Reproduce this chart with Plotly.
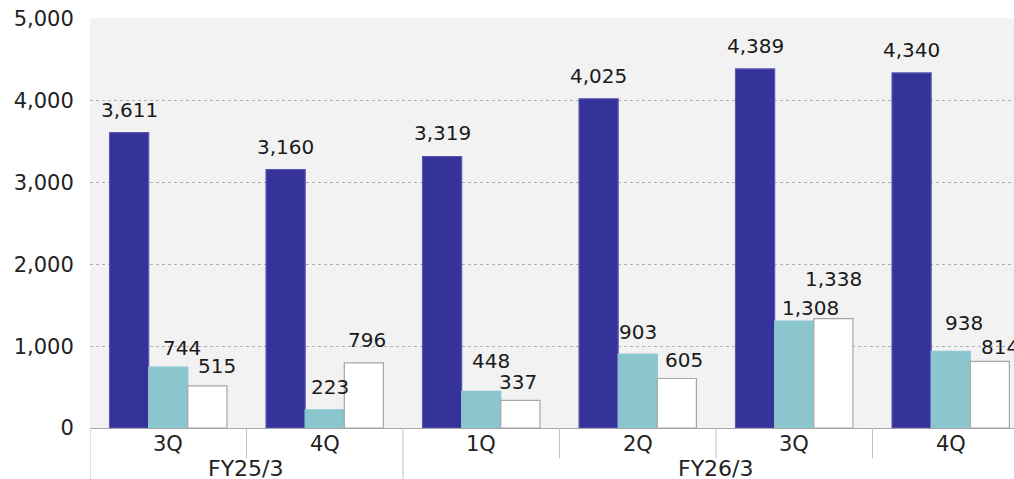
import plotly.graph_objects as go

# ---- data ----
fiscal_years = ["FY25/3", "FY25/3", "FY26/3", "FY26/3", "FY26/3", "FY26/3"]
quarters = ["3Q", "4Q", "1Q", "2Q", "3Q", "4Q"]
series_a = [3611, 3160, 3319, 4025, 4389, 4340]
series_b = [744, 223, 448, 903, 1308, 938]
series_c = [515, 796, 337, 605, 1338, 814]
y_ticks = [0, 1000, 2000, 3000, 4000, 5000]

# ---- style ----
FONT = "DejaVu Sans"
colors = ["#35339A", "#8BC6CE", "#FFFFFF"]
line_colors = ["#5856B0", "#8BC6CE", "#A6A6A6"]
bar_offsets = [-0.25, 0.0, 0.25]
# label nudges (pixels) reproducing the original's manual label layout
label_dx = [[0] * 6, [14, 5, 10, 0, 16, 13], [10, 3, -2, 7, 0, 10]]
label_dy = [[23] * 6, [19, 23, 30, 22, 13, 28], [20, 23, 18, 19, 40, 14]]

W, H = 1014, 479
ML, MT, MB = 90, 18, 51
plot_h = H - MT - MB

n = len(quarters)
idx = list(range(n))

fig = go.Figure()
all_series = [series_a, series_b, series_c]
for s, vals in enumerate(all_series):
    fig.add_trace(go.Bar(
        x=idx, y=vals,
        marker=dict(color=colors[s], line=dict(color=line_colors[s], width=1.2)),
        showlegend=False, hoverinfo="skip",
    ))

annotations = []
for s, vals in enumerate(all_series):
    for i, v in enumerate(vals):
        annotations.append(dict(
            x=i + bar_offsets[s], y=v, xref="x", yref="y",
            text=f"{v:,}", showarrow=False, yanchor="middle", xanchor="center",
            xshift=label_dx[s][i], yshift=label_dy[s][i],
            font=dict(family=FONT, size=20, color="#1a1a1a"),
        ))

# inner-level (quarter) labels
for i, q in enumerate(quarters):
    annotations.append(dict(
        x=i, y=0, xref="x", yref="paper", text=q, showarrow=False,
        yanchor="middle", xanchor="center", yshift=-16,
        font=dict(family=FONT, size=21, color="#222222"),
    ))

# outer-level (fiscal year) labels and group boundaries
groups = []
for i, fy in enumerate(fiscal_years):
    if not groups or groups[-1][0] != fy:
        groups.append([fy, i, i])
    else:
        groups[-1][2] = i
shapes = []
for fy, a, b in groups:
    annotations.append(dict(
        x=(a + b) / 2, y=0, xref="x", yref="paper", text=fy, showarrow=False,
        yanchor="middle", xanchor="center", yshift=-40,
        font=dict(family=FONT, size=22, color="#222222"),
    ))
group_starts = {a for _, a, _ in groups}
for i in idx:
    full = i in group_starts
    shapes.append(dict(
        type="line", xref="x", yref="paper",
        x0=i - 0.5, x1=i - 0.5, y0=0,
        y1=-(MB if full else 30) / plot_h,
        line=dict(color="#BFBFBF", width=1),
    ))

fig.update_layout(
    width=W, height=H,
    margin=dict(l=ML, r=0, t=MT, b=MB, pad=0),
    paper_bgcolor="white", plot_bgcolor="#F2F2F2",
    barmode="group", bargap=0.25, bargroupgap=0,
    annotations=annotations, shapes=shapes,
    font=dict(family=FONT, size=20, color="#222222"),
    xaxis=dict(
        range=[-0.5, n - 0.5 - 15 / 157],
        showticklabels=False, ticks="",
        showline=True, linecolor="#A6A6A6", linewidth=1,
        showgrid=False, zeroline=False, fixedrange=True, automargin=False,
    ),
    yaxis=dict(
        range=[0, 5012], tickvals=y_ticks, tickformat=",d",
        showgrid=True, gridcolor="#B0B0B0", griddash="dot", gridwidth=1,
        zeroline=False, showline=False, automargin=False, fixedrange=True,
        ticks="outside", ticklen=11, tickcolor="rgba(0,0,0,0)",
        tickfont=dict(family=FONT, size=21, color="#222222"),
    ),
)

# the viewer page uses the browser's default 8px body margin; remove it so the
# figure sits flush in the 1014x479 window without scrollbars
fig.write_html(
    "out.html",
    config={"displayModeBar": False, "staticPlot": True},
    post_script="document.body.style.margin='0';document.body.style.overflow='hidden';",
)
